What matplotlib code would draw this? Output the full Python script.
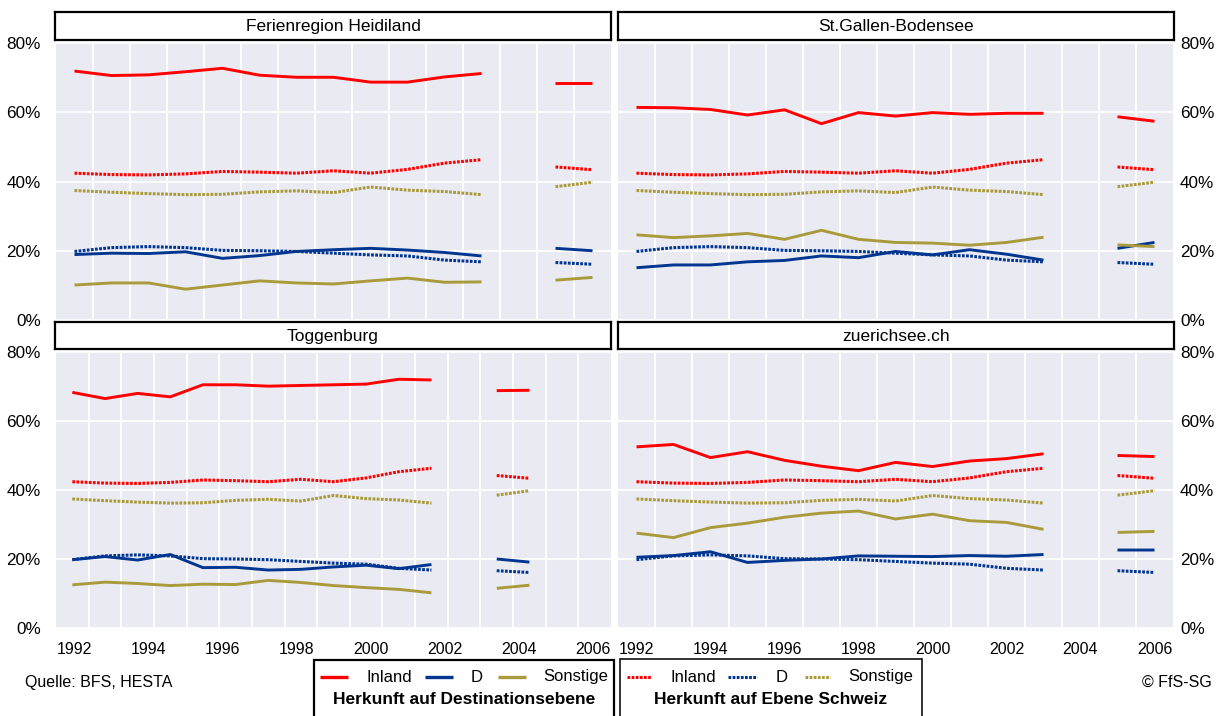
import numpy as np
import matplotlib.pyplot as plt
from matplotlib.lines import Line2D
from matplotlib.patches import Rectangle
from matplotlib.ticker import FuncFormatter

plt.rcParams['font.family'] = ['Liberation Sans', 'DejaVu Sans']

# slot index 12 (2004) has no data
years = list(range(1992, 2007))
tick_years = [1992, 1994, 1996, 1998, 2000, 2002, 2004, 2006]
nan = np.nan

# Herkunft auf Ebene Schweiz (same in every panel)
ch_inland = [42.4, 42.0, 41.9, 42.2, 42.9, 42.7, 42.4, 43.1, 42.4, 43.5, 45.3, 46.3, nan, 44.2, 43.4]
ch_d = [19.8, 20.9, 21.2, 20.9, 20.1, 20.0, 19.8, 19.3, 18.8, 18.5, 17.3, 16.8, nan, 16.6, 16.1]
ch_sonst = [37.4, 36.9, 36.5, 36.2, 36.3, 37.0, 37.3, 36.8, 38.4, 37.5, 37.1, 36.2, nan, 38.5, 39.8]

# Herkunft auf Destinationsebene
fh_inland = [71.9, 70.6, 70.8, 71.7, 72.7, 70.7, 70.1, 70.1, 68.7, 68.7, 70.2, 71.2, nan, 68.3, 68.3]
fh_d = [18.9, 19.3, 19.2, 19.7, 17.8, 18.6, 19.8, 20.3, 20.7, 20.2, 19.5, 18.5, nan, 20.7, 20.0]
fh_sonst = [10.1, 10.7, 10.7, 8.9, 10.1, 11.3, 10.7, 10.4, 11.3, 12.1, 10.9, 11.0, nan, 11.5, 12.3]

sg_inland = [61.4, 61.3, 60.8, 59.2, 60.7, 56.7, 59.9, 58.9, 59.9, 59.4, 59.7, 59.7, nan, 58.7, 57.4]
sg_d = [15.1, 15.9, 15.9, 16.8, 17.2, 18.5, 18.0, 19.8, 18.8, 20.3, 19.0, 17.3, nan, 20.7, 22.4]
sg_sonst = [24.6, 23.8, 24.3, 25.0, 23.3, 25.9, 23.3, 22.4, 22.2, 21.6, 22.4, 23.9, nan, 21.7, 21.2]

tb_inland = [68.3, 66.5, 68.0, 67.0, 70.5, 70.5, 70.1, 70.3, 70.5, 70.7, 72.1, 71.9, nan, 68.8, 68.9]
tb_d = [19.8, 20.7, 19.7, 21.3, 17.5, 17.6, 16.8, 17.0, 17.7, 18.2, 17.2, 18.4, nan, 20.0, 19.1]
tb_sonst = [12.5, 13.3, 12.9, 12.3, 12.7, 12.6, 13.8, 13.2, 12.3, 11.7, 11.2, 10.2, nan, 11.5, 12.4]

zs_inland = [52.5, 53.2, 49.4, 51.1, 48.6, 46.9, 45.6, 48.0, 46.8, 48.4, 49.1, 50.5, nan, 50.0, 49.7]
zs_d = [20.5, 21.0, 22.1, 19.0, 19.6, 20.0, 20.9, 20.8, 20.7, 21.0, 20.8, 21.3, nan, 22.6, 22.6]
zs_sonst = [27.5, 26.2, 29.1, 30.4, 32.1, 33.3, 33.9, 31.6, 33.0, 31.1, 30.6, 28.6, nan, 27.7, 28.0]

regions = ["Ferienregion Heidiland", "St.Gallen-Bodensee", "Toggenburg", "zuerichsee.ch"]
region_data = [
    (fh_inland, fh_d, fh_sonst),
    (sg_inland, sg_d, sg_sonst),
    (tb_inland, tb_d, tb_sonst),
    (zs_inland, zs_d, zs_sonst),
]
# Toggenburg panel is drawn with 17 category slots, the others with 15
n_slots = [15, 15, 17, 15]

RED = '#FF0000'
BLUE = '#003590'
OLIVE = '#A99B3B'
BG = '#EAEAF2'
colors = [RED, BLUE, OLIVE]
DOT = (0, (0.9, 0.45))

W, H = 1229, 716
FS = 11.5


def box(x0, y0, x1, y1):
    return [x0 / W, 1 - y1 / H, (x1 - x0) / W, (y1 - y0) / H]


fig = plt.figure(figsize=(W / 100, H / 100), dpi=100)

panel_px = [(56, 43, 611, 320), (618, 43, 1173, 320),
            (56, 352, 611, 628), (618, 352, 1173, 628)]
strip_px = [(55, 12, 611, 40), (618, 12, 1174, 40),
            (55, 322, 611, 349), (618, 322, 1174, 349)]

for i, name in enumerate(regions):
    n = n_slots[i]
    ax = fig.add_axes(box(*panel_px[i]))
    ax.set_facecolor(BG)
    x = np.arange(len(years))
    for vals, c in zip((ch_inland, ch_d, ch_sonst), colors):
        ax.plot(x, np.array(vals, dtype=float), color=c, lw=2.2, ls=DOT,
                dash_capstyle='butt')
    for vals, c in zip(region_data[i], colors):
        ax.plot(x, np.array(vals, dtype=float), color=c, lw=2.1,
                solid_capstyle='butt')

    ax.set_xlim(-0.5, n - 0.5)
    ax.set_ylim(0, 80)
    ax.set_yticks([0, 20, 40, 60, 80])
    ax.yaxis.set_major_formatter(FuncFormatter(lambda v, p: f"{v:.0f}%"))
    # year labels are spread evenly over the panel width
    tpos = [((yr - 1992) + 0.5) / 15 * n - 0.5 for yr in tick_years]
    ax.set_xticks(tpos)
    ax.set_xticklabels([str(yr) for yr in tick_years])
    ax.set_xticks(np.arange(0.5, n - 1, 1.0), minor=True)
    ax.grid(False)
    ax.grid(which='minor', axis='x', color='white', lw=1.3)
    ax.grid(which='major', axis='y', color='white', lw=1.3)
    ax.set_axisbelow(True)
    for s in ax.spines.values():
        s.set_visible(False)
    ax.tick_params(which='both', length=0, labelsize=FS)
    ax.tick_params(axis='y', labelsize=FS + 0.8)
    ax.tick_params(axis='x', pad=10)
    if i < 2:
        ax.tick_params(axis='x', labelbottom=False)
    if i % 2 == 1:
        ax.yaxis.tick_right()
        ax.tick_params(axis='y', pad=5)
    else:
        ax.tick_params(axis='y', pad=11)

    sax = fig.add_axes(box(*strip_px[i]))
    sax.set_xticks([])
    sax.set_yticks([])
    sax.set_facecolor('white')
    for s in sax.spines.values():
        s.set_linewidth(1.6)
        s.set_color('black')
    sax.text(0.5, 0.48, name, ha='center', va='center', fontsize=12.5,
             transform=sax.transAxes)


def fx(x):
    return x / W


def fy(y):
    return 1 - y / H


# legend boxes
fig.add_artist(Rectangle((fx(314), fy(722)), fx(614) - fx(314), fy(660) - fy(722),
                         transform=fig.transFigure, fill=False, ec='black', lw=1.6))
fig.add_artist(Rectangle((fx(620), fy(722)), fx(922) - fx(620), fy(659) - fy(722),
                         transform=fig.transFigure, fill=False, ec='#222222', lw=1.3))

labels = ["Inland", "D", "Sonstige"]
leg1_lines = [(320, 348), (425, 453), (498, 526)]
leg1_text = [366, 471, 543]
leg2_lines = [(627, 651), (728, 757), (805, 830)]
leg2_text = [671, 776, 848]
for (a, b), tx, lab, c in zip(leg1_lines, leg1_text, labels, colors):
    fig.add_artist(Line2D([fx(a), fx(b)], [fy(677), fy(677)], transform=fig.transFigure,
                          color=c, lw=2.4, solid_capstyle='butt'))
    fig.text(fx(tx), fy(677), lab, ha='left', va='center', fontsize=12)
for (a, b), tx, lab, c in zip(leg2_lines, leg2_text, labels, colors):
    fig.add_artist(Line2D([fx(a), fx(b)], [fy(677), fy(677)], transform=fig.transFigure,
                          color=c, lw=2.2, ls=DOT, dash_capstyle='butt'))
    fig.text(fx(tx), fy(677), lab, ha='left', va='center', fontsize=12)
fig.text(fx(464), fy(700), "Herkunft auf Destinationsebene", ha='center', va='center',
         fontsize=12.5, fontweight='bold')
fig.text(fx(771), fy(700), "Herkunft auf Ebene Schweiz", ha='center', va='center',
         fontsize=12.5, fontweight='bold')

fig.text(fx(25), fy(682), "Quelle: BFS, HESTA", ha='left', va='center', fontsize=11.5)
fig.text(fx(1212), fy(682), "\u00a9 FfS-SG", ha='right', va='center', fontsize=11.5)

fig.savefig("out.png", dpi=100)
